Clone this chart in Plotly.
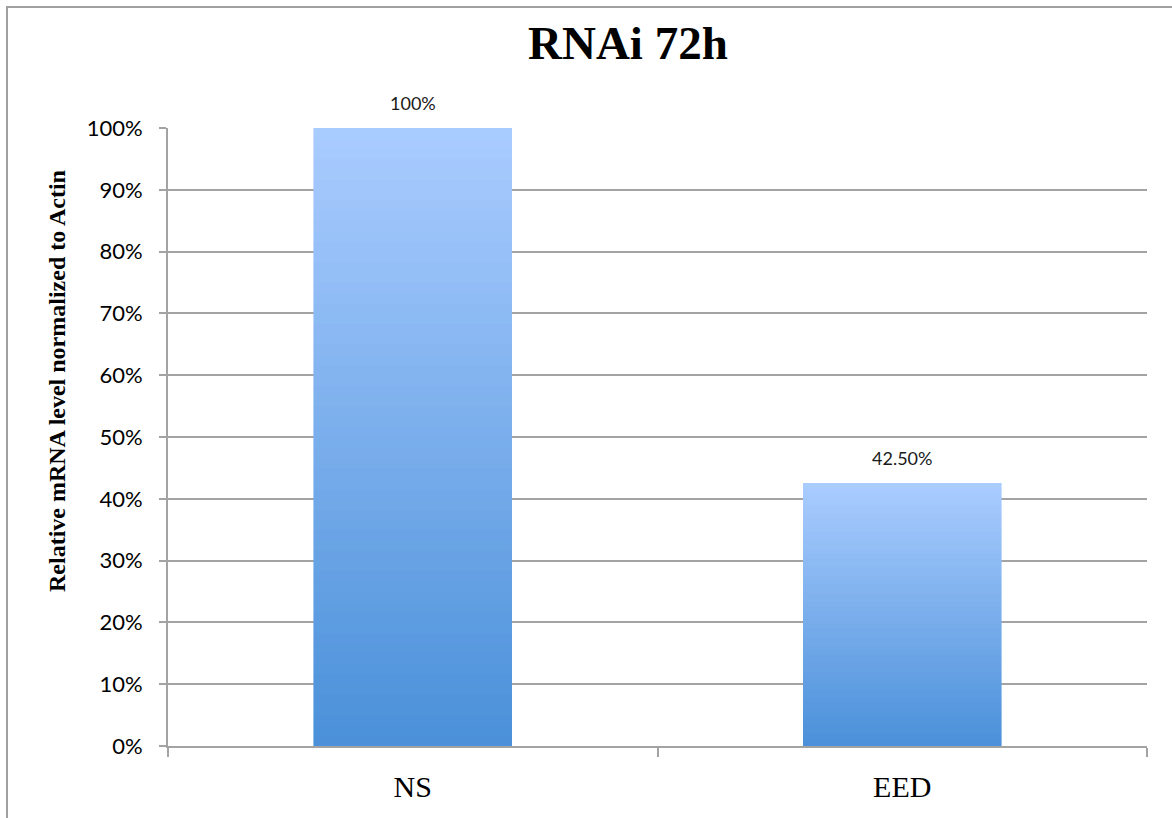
import plotly.graph_objects as go

# Knockdown efficiency after 72 h of RNAi
categories = ["NS", "EED"]
values = [1.00, 0.425]
value_labels = ["100%", "42.50%"]
y_ticks = [0, 0.1, 0.2, 0.3, 0.4, 0.5, 0.6, 0.7, 0.8, 0.9, 1.0]
y_tick_labels = ["0%", "10%", "20%", "30%", "40%", "50%", "60%", "70%", "80%", "90%", "100%"]

W, H = 1172, 818
L, R, T, B = 168, 25, 128, 72
plot_w, plot_h = W - L - R, H - T - B

# vertical gradient: dark blue at the base, pale blue at the top of each bar
c_bottom = (74, 144, 217)
c_top = (170, 204, 255)
n_slices = 60


def mix(t):
    return "rgb(%d,%d,%d)" % tuple(round(a + (b - a) * t) for a, b in zip(c_bottom, c_top))


fig = go.Figure()
for i in range(n_slices):
    col = mix((i + 0.5) / n_slices)
    fig.add_trace(go.Bar(
        x=categories,
        y=[v / n_slices for v in values],
        marker=dict(color=col, line=dict(color=col, width=0.6)),
        showlegend=False,
        hoverinfo="skip",
    ))

# value labels above each bar
for cat, v, lab in zip(categories, values, value_labels):
    fig.add_annotation(x=cat, y=v, text=lab, showarrow=False, yshift=25,
                       font=dict(family="Lato", size=18, color="#1a1a1a"))

grid = "#a3a3a3"


def px(x):
    return (x - L) / plot_w


def py(y):
    return (H - B - y) / plot_h


# chart title and y-axis title
fig.add_annotation(xref="paper", yref="paper", x=px(628), y=py(43), text="<b>RNAi 72h</b>",
                   showarrow=False, xanchor="center", yanchor="middle",
                   font=dict(family="Liberation Serif", size=47, color="black"))
fig.add_annotation(xref="paper", yref="paper", x=px(57), y=py(381),
                   text="<b>Relative mRNA level normalized to Actin</b>", textangle=-90,
                   showarrow=False, xanchor="center", yanchor="middle",
                   font=dict(family="Liberation Serif", size=24, color="black"))

# outer frame around the chart
fig.add_shape(type="rect", xref="paper", yref="paper",
              x0=px(7), x1=px(1185), y0=py(835), y1=py(7),
              line=dict(color="#a0a0a0", width=2), layer="above")

fig.update_layout(
    width=W, height=H,
    margin=dict(l=L, r=R, t=T, b=B),
    barmode="stack",
    bargap=0.596,
    plot_bgcolor="white",
    paper_bgcolor="white",
    hovermode=False,
    xaxis=dict(
        type="category",
        showline=True, linecolor=grid, linewidth=2,
        ticks="outside", tickson="boundaries", ticklen=9, tickcolor=grid, tickwidth=2,
        showgrid=False,
        tickfont=dict(family="Liberation Serif", size=30, color="black"),
        ticklabelstandoff=13,
    ),
    yaxis=dict(
        range=[0, 1],
        tickvals=y_ticks, ticktext=y_tick_labels,
        showline=True, linecolor=grid, linewidth=2,
        ticks="outside", ticklen=7, tickcolor=grid, tickwidth=2,
        showgrid=True, gridcolor=grid, gridwidth=1.5,
        zeroline=False,
        tickfont=dict(family="Lato", size=22, color="black"),
        ticklabelstandoff=12,
    ),
)

fig.write_html("out.html")
